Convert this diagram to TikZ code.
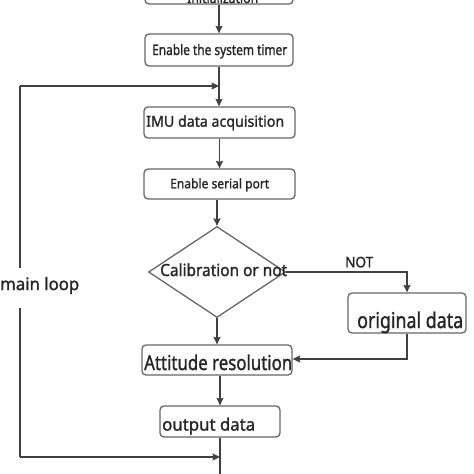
\documentclass[tikz,border=0pt]{standalone}
\usepackage{fontspec}
\setmainfont{Noto Sans}[FakeBold=1.4]
\usetikzlibrary{shapes.geometric,arrows.meta}
\definecolor{linec}{HTML}{404040}
\definecolor{boxc}{HTML}{666666}
\definecolor{txtc}{HTML}{262626}
\newcommand{\fitlbl}[3]{\resizebox{#1pt}{#2pt}{#3}}
\tikzset{
  procbox/.style={draw=boxc, line width=1.3pt, rounded corners=4pt, inner sep=0pt, fill=white},
  decbox/.style={draw=boxc, line width=1.3pt, diamond, inner sep=0pt},
  arr/.style={draw=linec, line width=1.3pt, -{Stealth[length=7.5pt,width=7pt,inset=1pt]}},
  ln/.style={draw=linec, line width=1.3pt},
  lbl/.style={text=txtc, inner sep=0pt, anchor=base west}
}
\begin{document}
\begin{tikzpicture}[x=1pt,y=-1pt]
\useasboundingbox (0,0) rectangle (474,474);
% boxes
\node[procbox, minimum width=148pt, minimum height=30pt] (init) at (219,-11) {};
\node[procbox, minimum width=148pt, minimum height=32pt] (timer) at (219,50) {};
\node[procbox, minimum width=151pt, minimum height=31pt] (imu) at (219.5,122.5) {};
\node[procbox, minimum width=151pt, minimum height=30pt] (serial) at (219.5,184) {};
\node[decbox, minimum width=137pt, minimum height=91pt] (cal) at (217,272) {};
\node[procbox, minimum width=118pt, minimum height=40pt] (orig) at (407,313) {};
\node[procbox, minimum width=150pt, minimum height=30pt] (att) at (217,360) {};
\node[procbox, minimum width=120pt, minimum height=31pt] (out) at (220,421.5) {};
% texts
\node[lbl] (initt) at (187,3) {\fitlbl{71}{11}{Initialization}};
\node[lbl] (timert) at (152,55) {\fitlbl{135}{11}{Enable the system timer}};
\node[lbl] (imut) at (146,126.7) {\fitlbl{138}{11.4}{IMU data acquisition}};
\node[lbl] (serialt) at (170,188.3) {\fitlbl{99}{10}{Enable serial port}};
\node[lbl] (calt) at (160,276) {\fitlbl{127}{12.7}{Calibration or not}};
\node[lbl] (origt) at (357,328) {\fitlbl{106}{16.5}{original data}};
\node[lbl] (attt) at (144,370) {\fitlbl{148}{15.5}{Attitude resolution}};
\node[lbl] (outt) at (162,430.5) {\fitlbl{93}{13}{output data}};
\node[lbl] (mainloop) at (0,290) {\fitlbl{79}{13}{main loop}};
\node[lbl] (notl) at (345,267.3) {\fitlbl{28}{10.5}{NOT}};
% loop coordinates
\coordinate (ltop) at (20,86);
\coordinate (gap1) at (20,268);
\coordinate (gap2) at (20,308);
\coordinate (lbot) at (20,457);
\coordinate (bend1) at (407,272);
\coordinate (bend2) at (407,359);
\coordinate (endb) at (220,476);
% connectors
\draw[arr] (init.south) -- (timer.north);
\draw[arr] (timer.south) -- (imu.north -| timer.south);
\draw[arr] (imu.south) -- (serial.north);
\draw[arr] (serial.south -| cal.north) -- (cal.north);
\draw[arr] (cal.south) -- (att.north -| cal.south);
\draw[arr] (cal.east) -- (bend1) -- (orig.north);
\draw[arr] (orig.south) -- (bend2) -- (att.east |- bend2);
\draw[arr] (att.south -| out.north) -- (out.north);
\draw[ln] (out.south) -- (endb);
\draw[ln] (ltop) -- (gap1);
\draw[ln] (gap2) -- (lbot);
\draw[arr] (ltop) -- (ltop -| timer.south);
\draw[arr] (lbot) -- (lbot -| out.south);
\end{tikzpicture}
\end{document}
